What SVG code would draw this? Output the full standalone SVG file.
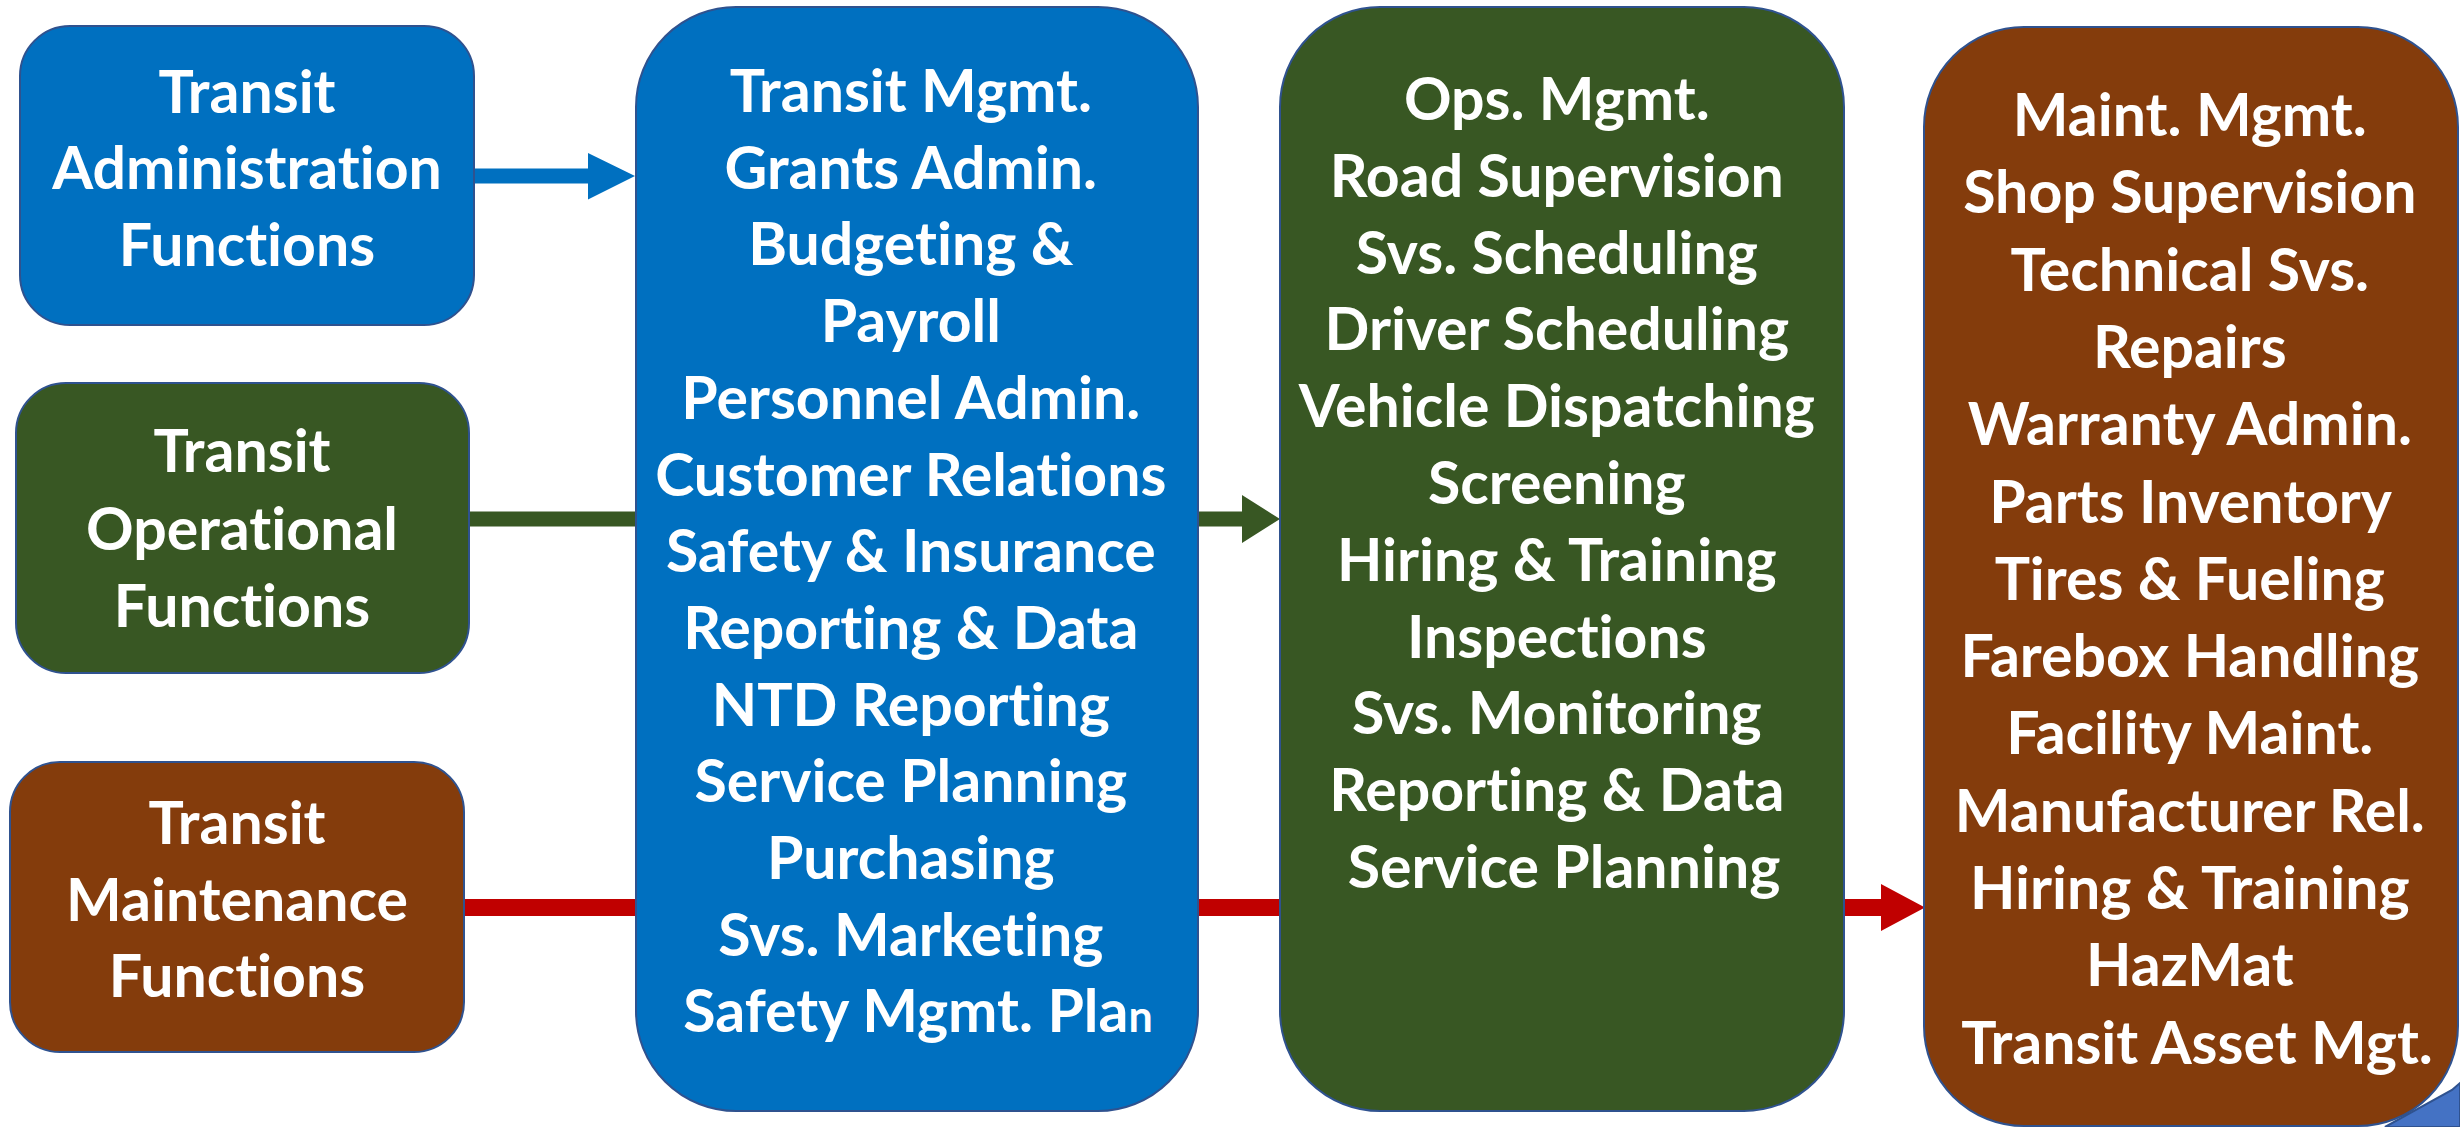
<svg xmlns="http://www.w3.org/2000/svg" width="2460" height="1127" viewBox="0 0 2460 1127">
<style>
.t{font-family:Lato,"Open Sans","Liberation Sans",sans-serif;font-weight:700;font-size:59px;fill:#ffffff;text-anchor:middle;font-variant-ligatures:none;font-feature-settings:"liga" 0,"clig" 0}
.box{stroke:#2F528F;stroke-width:2}
.blue{fill:#0070C0}
.green{fill:#385723}
.brown{fill:#843C0C}
</style>
<rect width="2460" height="1127" fill="#ffffff"/>
<g id="connectors">
<path d="M474 168.5H588V153L635 176L588 199.5V183.5H474Z" fill="#0070C0"/>
<path d="M469 511.5H1242V495L1280 519L1242 543V526.5H469Z" fill="#385723"/>
<path d="M464 899H1881V884L1925 907.5L1881 931V916H464Z" fill="#C00000"/>
</g>
<polygon id="corner-shape" points="2452,1090 2460,1083 2460,1127 2385,1127" fill="#4472C4" stroke="#2F528F" stroke-width="2"/>
<g id="admin">
<rect class="box blue" x="20" y="26" width="454" height="299" rx="50"/>
<text class="t"><tspan x="247" y="113">Transit</tspan><tspan x="247" y="189">Administration</tspan><tspan x="247" y="266">Functions</tspan></text>
</g>
<g id="operational">
<rect class="box green" x="16" y="383" width="453" height="290" rx="50"/>
<text class="t"><tspan x="242" y="472">Transit</tspan><tspan x="242" y="550">Operational</tspan><tspan x="242" y="627">Functions</tspan></text>
</g>
<g id="maintenance">
<rect class="box brown" x="10" y="762" width="454" height="290" rx="50"/>
<text class="t"><tspan x="237" y="844">Transit</tspan><tspan x="237" y="921">Maintenance</tspan><tspan x="237" y="997">Functions</tspan></text>
</g>
<g id="admin-list">
<rect class="box blue" x="636" y="7" width="562" height="1104" rx="100"/>
<text class="t">
<tspan x="918" y="112">Transit Mgmt.</tspan>
<tspan x="918" y="188.7">Grants Admin.</tspan>
<tspan x="918" y="265.4">Budgeting &amp;</tspan>
<tspan x="918" y="342.1">Payroll</tspan>
<tspan x="918" y="418.8">Personnel Admin.</tspan>
<tspan x="918" y="495.5">Customer Relations</tspan>
<tspan x="918" y="572.2">Safety &amp; Insurance</tspan>
<tspan x="918" y="648.9">Reporting &amp; Data</tspan>
<tspan x="918" y="725.6">NTD Reporting</tspan>
<tspan x="918" y="802.3">Service Planning</tspan>
<tspan x="918" y="879">Purchasing</tspan>
<tspan x="918" y="955.7">Svs. Marketing</tspan>
<tspan x="918" y="1032.4">Safety Mgmt. Pla<tspan font-size="43">n</tspan></tspan>
</text>
</g>
<g id="ops-list">
<rect class="box green" x="1280" y="7" width="564" height="1104" rx="100"/>
<text class="t">
<tspan x="1564" y="120">Ops. Mgmt.</tspan>
<tspan x="1564" y="196.8">Road Supervision</tspan>
<tspan x="1564" y="273.6">Svs. Scheduling</tspan>
<tspan x="1564" y="350.4">Driver Scheduling</tspan>
<tspan x="1564" y="427.2">Vehicle Dispatching</tspan>
<tspan x="1564" y="504">Screening</tspan>
<tspan x="1564" y="580.8">Hiring &amp; Training</tspan>
<tspan x="1564" y="657.6">Inspections</tspan>
<tspan x="1564" y="734.4">Svs. Monitoring</tspan>
<tspan x="1564" y="811.2">Reporting &amp; Data</tspan>
<tspan x="1564" y="888">Service Planning</tspan>
</text>
</g>
<g id="maint-list">
<rect class="box brown" x="1924" y="27" width="534" height="1099" rx="100"/>
<text class="t">
<tspan x="2197" y="136">Maint. Mgmt.</tspan>
<tspan x="2197" y="213.3">Shop Supervision</tspan>
<tspan x="2197" y="290.6">Technical Svs.</tspan>
<tspan x="2197" y="367.9">Repairs</tspan>
<tspan x="2197" y="445.2">Warranty Admin.</tspan>
<tspan x="2197" y="522.5">Parts Inventory</tspan>
<tspan x="2197" y="599.8">Tires &amp; Fueling</tspan>
<tspan x="2197" y="677.1">Farebox Handling</tspan>
<tspan x="2197" y="754.4">Facility Maint.</tspan>
<tspan x="2197" y="831.7">Manufacturer Rel.</tspan>
<tspan x="2197" y="909">Hiring &amp; Training</tspan>
<tspan x="2197" y="986.3">HazMat</tspan>
<tspan x="2197" y="1063.6">Transit Asset Mgt.</tspan>
</text>
</g>
</svg>
